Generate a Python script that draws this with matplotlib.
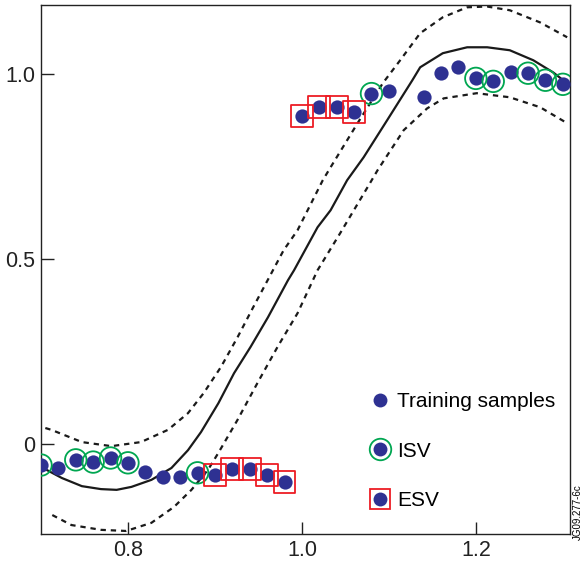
import matplotlib.pyplot as plt
from matplotlib.lines import Line2D
from matplotlib.legend_handler import HandlerTuple

plt.rcParams['font.family'] = ['Liberation Sans', 'DejaVu Sans']

# training samples
x_train = [0.70, 0.72, 0.74, 0.76, 0.78, 0.80, 0.82, 0.84, 0.86, 0.88,
           0.90, 0.92, 0.94, 0.96, 0.98, 1.00, 1.02, 1.04, 1.06, 1.08,
           1.10, 1.14, 1.16, 1.18, 1.20, 1.22, 1.24, 1.26, 1.28, 1.30]
y_train = [-0.056, -0.064, -0.042, -0.048, -0.037, -0.050, -0.075, -0.088, -0.088, -0.077,
           -0.083, -0.067, -0.067, -0.083, -0.102, 0.886, 0.910, 0.910, 0.896, 0.947,
           0.953, 0.937, 1.002, 1.020, 0.988, 0.980, 1.004, 1.002, 0.983, 0.972]

# which samples are ISV / ESV
isv_x = [0.70, 0.74, 0.76, 0.78, 0.80, 0.88, 1.08, 1.20, 1.22, 1.26, 1.28, 1.30]
esv_x = [0.90, 0.92, 0.94, 0.96, 0.98, 1.00, 1.02, 1.04, 1.06]

# fitted mean
mean_x = [0.700, 0.724, 0.747, 0.769, 0.787, 0.804, 0.827, 0.850, 0.869, 0.884,
          0.904, 0.922, 0.941, 0.961, 0.984, 0.991, 1.018, 1.033, 1.052, 1.071,
          1.098, 1.127, 1.136, 1.162, 1.190, 1.213, 1.239, 1.266, 1.289, 1.308]
mean_y = [-0.061, -0.091, -0.113, -0.121, -0.123, -0.115, -0.096, -0.064, -0.016, 0.033,
          0.111, 0.192, 0.263, 0.343, 0.443, 0.470, 0.586, 0.632, 0.713, 0.775,
          0.875, 0.983, 1.018, 1.056, 1.072, 1.072, 1.064, 1.037, 1.004, 0.969]

# upper and lower bounds (dashed)
up_x = [0.705, 0.712, 0.747, 0.781, 0.815, 0.846, 0.869, 0.887, 0.907, 0.926,
        0.944, 0.979, 0.995, 1.024, 1.033, 1.064, 1.093, 1.113, 1.136, 1.162,
        1.190, 1.213, 1.239, 1.274, 1.305]
up_y = [0.044, 0.039, 0.006, -0.005, 0.006, 0.039, 0.084, 0.138, 0.209, 0.289,
        0.370, 0.524, 0.578, 0.713, 0.748, 0.867, 0.975, 1.037, 1.110, 1.153,
        1.180, 1.182, 1.172, 1.139, 1.099]
lo_x = [0.713, 0.735, 0.769, 0.798, 0.827, 0.853, 0.873, 0.892, 0.904, 0.926,
        0.949, 0.972, 0.995, 1.018, 1.044, 1.079, 1.087, 1.117, 1.144, 1.163,
        1.201, 1.239, 1.274, 1.305]
lo_y = [-0.191, -0.218, -0.231, -0.234, -0.212, -0.169, -0.123, -0.069, -0.023, 0.066,
        0.166, 0.263, 0.354, 0.470, 0.570, 0.708, 0.740, 0.848, 0.907, 0.934,
        0.948, 0.937, 0.910, 0.867]

navy = '#2e3192'
green = '#00a651'
red = '#ed1c24'

fig = plt.figure(figsize=(5.82, 5.62), dpi=100)
ax = fig.add_axes([0.0704, 0.0493, 0.9086, 0.9417])

ax.plot(mean_x, mean_y, color='#1a1a1a', lw=1.6)
ax.plot(up_x, up_y, color='#1a1a1a', lw=1.6, ls=(0, (2.4, 2.2)))
ax.plot(lo_x, lo_y, color='#1a1a1a', lw=1.6, ls=(0, (2.4, 2.2)))

ax.scatter(x_train, y_train, s=105, color=navy, zorder=3, linewidths=0)

isv_y = [y_train[x_train.index(v)] for v in isv_x]
esv_y = [y_train[x_train.index(v)] for v in esv_x]
ax.scatter(isv_x, isv_y, s=240, facecolors='none', edgecolors=green, linewidths=1.3, zorder=4)
ax.scatter(esv_x, esv_y, s=250, marker='s', facecolors='none', edgecolors=red, linewidths=1.3, zorder=4)

dot = Line2D([], [], ls='none', marker='o', ms=10, color=navy, mec='none')
circ = Line2D([], [], ls='none', marker='o', ms=15.5, mfc='none', mec=green, mew=1.3)
sq = Line2D([], [], ls='none', marker='s', ms=15, mfc='none', mec=red, mew=1.3)
ax.legend([dot, (dot, circ), (dot, sq)], ['Training samples', 'ISV', 'ESV'],
          handler_map={tuple: HandlerTuple(ndivide=1)},
          loc='center left', bbox_to_anchor=(0.606, 0.157), borderaxespad=0,
          frameon=False, fontsize=15, handlelength=1.0, handletextpad=0.3,
          labelspacing=1.45)

ax.set_xlim(0.70, 1.308)
ax.set_ylim(-0.243, 1.186)
ax.set_xticks([0.8, 1.0, 1.2])
ax.set_yticks([0.0, 0.5, 1.0])
ax.set_xticklabels(['0.8', '1.0', '1.2'])
ax.set_yticklabels(['0', '0.5', '1.0'])
ax.tick_params(direction='in', length=9, width=1, labelsize=15.5, pad=4, colors='#222222')
for sp in ax.spines.values():
    sp.set_color('#222222')
    sp.set_linewidth(1)

fig.text(0.992, 0.04, 'JG09.277-6c', rotation=90, fontsize=7, ha='center', va='bottom')

fig.savefig('out.png', dpi=100)
